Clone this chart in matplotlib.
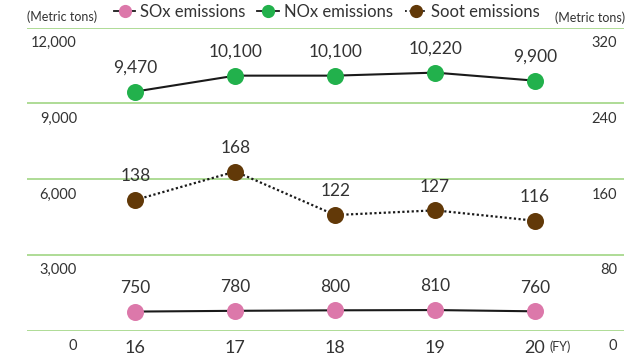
import matplotlib
matplotlib.use("Agg")
import matplotlib.pyplot as plt
from matplotlib.lines import Line2D
from matplotlib.transforms import ScaledTranslation

plt.rcParams["font.family"] = ["Lato", "DejaVu Sans"]

years = ["16", "17", "18", "19", "20"]
sox = [750, 780, 800, 810, 760]
nox = [9470, 10100, 10100, 10220, 9900]
soot = [138, 168, 122, 127, 116]

left_ticks = [0, 3000, 6000, 9000, 12000]
right_ticks = [0, 80, 160, 240, 320]

C_SOX = "#dc78aa"
C_NOX = "#22b14c"
C_SOOT = "#623908"
C_GRID = "#a8d98e"
C_TEXT = "#333333"

W, H = 644, 354
fig = plt.figure(figsize=(W / 100, H / 100), dpi=100)
ax = fig.add_axes([27 / W, 1 - 330.5 / H, (624 - 27) / W, (330.5 - 27.7) / H])
ax2 = ax.twinx()

x = list(range(16, 21))
ax.set_xlim(14.915, 20.89)
ax.set_ylim(0, 12000)
ax2.set_ylim(0, 320)

for a in (ax, ax2):
    for s in a.spines.values():
        s.set_visible(False)

ax.set_yticks(left_ticks)
ax.set_yticklabels([f"{v:,}" for v in left_ticks])
ax2.set_yticks(right_ticks)
ax2.set_yticklabels([str(v) for v in right_ticks])
ax.set_xticks(x)
ax.set_xticklabels(years)
ax.yaxis.grid(True, color=C_GRID, linewidth=1.3)
ax.set_axisbelow(True)

ax.tick_params(axis="y", length=0, pad=-36, labelsize=10.5, labelcolor=C_TEXT)
ax2.tick_params(axis="y", length=0, pad=-5, labelsize=10.5, labelcolor=C_TEXT)
ax.tick_params(axis="x", length=0, pad=6.5, labelsize=13, labelcolor=C_TEXT)

shift = ScaledTranslation(0, -14 / 100, fig.dpi_scale_trans)
for lab in ax.get_yticklabels():
    lab.set_transform(lab.get_transform() + shift)
for lab in ax2.get_yticklabels():
    lab.set_transform(lab.get_transform() + shift)
    lab.set_horizontalalignment("right")

line_kw = dict(color="#1a1a1a", linewidth=1.5, zorder=2)
mk_kw = dict(s=150, zorder=3, linewidths=0)

ax.plot(x, sox, **line_kw)
ax.scatter(x, sox, color=C_SOX, **mk_kw)
ax.plot(x, nox, **line_kw)
ax.scatter(x, nox, color=C_NOX, **mk_kw)
ax2.plot(x, soot, color="#1a1a1a", linewidth=1.6, linestyle=(0, (1, 1.1)), zorder=2)
ax2.scatter(x, soot, color=C_SOOT, **mk_kw)

lbl_kw = dict(textcoords="offset points", xytext=(0, 17), ha="center", va="center",
              fontsize=12.5, color=C_TEXT)
for xi, v in zip(x, sox):
    ax.annotate(f"{v:,}", (xi, v), **lbl_kw)
for xi, v in zip(x, nox):
    ax.annotate(f"{v:,}", (xi, v), **lbl_kw)
for xi, v in zip(x, soot):
    ax2.annotate(f"{v}", (xi, v), **lbl_kw)

ax.annotate("(FY)", (x[-1], 0), textcoords="offset points", xytext=(18, -11.5),
            ha="center", va="center", fontsize=9, color=C_TEXT)

fig.text(62 / W, 1 - 17 / H, "(Metric tons)", ha="center", va="center",
         fontsize=9, color=C_TEXT)
fig.text(590 / W, 1 - 18 / H, "(Metric tons)", ha="center", va="center",
         fontsize=9, color=C_TEXT)

handles = [
    Line2D([], [], color="#1a1a1a", linewidth=1.3, marker="o", markersize=9.5,
           markerfacecolor=C_SOX, markeredgewidth=0),
    Line2D([], [], color="#1a1a1a", linewidth=1.3, marker="o", markersize=9.5,
           markerfacecolor=C_NOX, markeredgewidth=0),
    Line2D([], [], color="#1a1a1a", linewidth=1.3, linestyle=(0, (1, 1.5)), marker="o",
           markersize=9.5, markerfacecolor=C_SOOT, markeredgewidth=0),
]
fig.legend(handles, ["SOx emissions", "NOx emissions", "Soot emissions"],
           loc="center", bbox_to_anchor=(327 / W, 1 - 12 / H), ncol=3, frameon=False,
           fontsize=12, handlelength=1.3, handletextpad=0.3, columnspacing=0.7,
           labelcolor=C_TEXT, borderpad=0, borderaxespad=0)

fig.savefig("out.png", dpi=100)
